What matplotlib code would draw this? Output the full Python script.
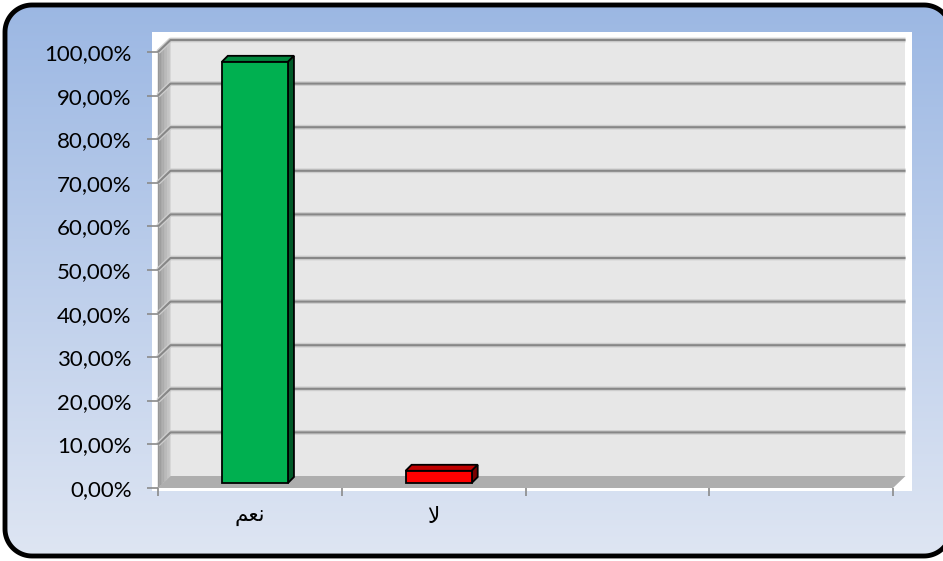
"""
Yes / No share - Excel-style 3D column chart
"""
import numpy as np
import matplotlib
matplotlib.use('Agg')
import matplotlib.pyplot as plt
from matplotlib.patches import Polygon, Rectangle

# Data
categories = ['نعم', 'لا']
values = [96.6, 2.8]
bar_colors = ['#00b050', '#ff0000']
top_colors = ['#00873d', '#c00000']
side_colors = ['#005a28', '#7a0000']
n_slots = 4
y_ticks = list(range(0, 101, 10))
y_tick_labels = [f'{v},00%' for v in y_ticks]

# Arabic display forms (matplotlib has no text shaping)
display_forms = {'نعم': '\uFEE2\uFECC\uFEE7', 'لا': '\uFEFB'}

W, H = 943, 561
fig = plt.figure(figsize=(W / 100, H / 100), dpi=100)
fig.patch.set_facecolor('white')

# Background: blue gradient inside a rounded frame
bg = fig.add_axes([0, 0, 1, 1])
bg.axis('off')
fx0, fy0, fx1, fy1, rad = 5, 5, 951, 556, 27
yy, xx = np.mgrid[0:H, 0:W] + 0.5
cx = np.clip(xx, fx0 + rad, fx1 - rad)
cy = np.clip(yy, fy0 + rad, fy1 - rad)
inside = ((xx - cx) ** 2 + (yy - cy) ** 2 <= rad ** 2) & (xx >= fx0) & (yy >= fy0) & (yy <= fy1)
c_top = np.array([0x9b, 0xb7, 0xe3]) / 255
c_bot = np.array([0xdf, 0xe6, 0xf3]) / 255
t = (yy / H)[..., None]
rgba = np.ones((H, W, 4))
rgba[..., :3] = c_top + (c_bot - c_top) * t
rgba[~inside, :3] = 1.0
bg.imshow(rgba, extent=[0, W, H, 0], aspect='auto', zorder=1, interpolation='nearest')
bg.set_xlim(0, W)
bg.set_ylim(H, 0)


# frame outline as a sampled polyline (avoids curve clipping artefacts)
def corner(cxc, cyc, a0, a1):
    a = np.radians(np.linspace(a0, a1, 24))
    return cxc + rad * np.cos(a), cyc + rad * np.sin(a)


parts = [corner(fx1 - rad, fy0 + rad, 0, -90),
         corner(fx0 + rad, fy0 + rad, -90, -180),
         corner(fx0 + rad, fy1 - rad, 180, 90),
         corner(fx1 - rad, fy1 - rad, 90, 0)]
fxs = np.concatenate([p[0] for p in parts] + [[parts[0][0][0]]])
fys = np.concatenate([p[1] for p in parts] + [[parts[0][1][0]]])
bg.plot(fxs, fys, color='black', lw=3.5, zorder=3, solid_joinstyle='round')
bg.add_patch(Rectangle((152, 32), 760, 459, facecolor='white', edgecolor='none', zorder=2))

# Main axes = front plane of the 3D box
x0px, x1px, y0px, y1px = 158, 893, 488, 52
ax = fig.add_axes([x0px / W, 1 - y0px / H, (x1px - x0px) / W, (y0px - y1px) / H])
ax.set_xlim(0, n_slots)
ax.set_ylim(0, 100)
ax.patch.set_alpha(0)
for s in ax.spines.values():
    s.set_visible(False)

px_x = n_slots / (x1px - x0px)
px_y = 100 / (y0px - y1px)
dx, dy = 12.5 * px_x, 12 * px_y        # wall depth
bsx, bsy = 5 * px_x, 5 * px_y          # bar offset into the box
bdx, bdy = 6 * px_x, 6 * px_y          # bar depth

# Back wall, side wall (shaded strips), floor
ax.add_patch(Polygon([(dx, dy), (n_slots + dx, dy), (n_slots + dx, 100 + dy), (dx, 100 + dy)],
                     closed=True, facecolor='#e7e7e7', edgecolor='none', clip_on=False, zorder=0))
n_strips = 8
shade_a, shade_b = np.array([0.58, 0.58, 0.58]), np.array([0.80, 0.80, 0.80])
for k in range(n_strips):
    f0, f1 = k / n_strips, (k + 1) / n_strips
    col = shade_a + (shade_b - shade_a) * (k + 0.5) / n_strips
    ax.add_patch(Polygon([(f0 * dx, f0 * dy), (f1 * dx, f1 * dy),
                          (f1 * dx, 100 + f1 * dy), (f0 * dx, 100 + f0 * dy)],
                         closed=True, facecolor=col, edgecolor=col, linewidth=0.3,
                         clip_on=False, zorder=0.5))
ax.add_patch(Polygon([(0, 0), (n_slots, 0), (n_slots + dx, dy), (dx, dy)],
                     closed=True, facecolor='#aeaeae', edgecolor='none', clip_on=False, zorder=0.6))

# Gridlines on walls
for v in y_ticks[1:]:
    xs = [0, dx, n_slots + dx]
    ys = [v, v + dy, v + dy]
    ax.plot(xs, ys, color='#cdcdcd', lw=3.4, clip_on=False, zorder=0.8, solid_capstyle='butt')
    ax.plot(xs, ys, color='#878787', lw=1.5, clip_on=False, zorder=0.9, solid_capstyle='butt')

# Bars: front faces through ax.bar, top and side faces from the same values
bar_w = 0.36
centers = [i + 0.5 + bsx for i in range(len(categories))]
ax.bar(centers, values, width=bar_w, bottom=bsy, color=bar_colors,
       edgecolor='black', linewidth=1.3, zorder=3)
for c, v, tc, sc in zip(centers, values, top_colors, side_colors):
    l, r = c - bar_w / 2, c + bar_w / 2
    top = bsy + v
    ax.add_patch(Polygon([(l, top), (r, top), (r + bdx, top + bdy), (l + bdx, top + bdy)],
                         closed=True, facecolor=tc, edgecolor='black', linewidth=1.3,
                         clip_on=False, zorder=2.9))
    ax.add_patch(Polygon([(r, bsy), (r + bdx, bsy + bdy), (r + bdx, top + bdy), (r, top)],
                         closed=True, facecolor=sc, edgecolor='black', linewidth=1.3,
                         clip_on=False, zorder=2.9))

# Axes ticks and labels
ax.set_yticks(y_ticks)
ax.set_yticklabels(y_tick_labels, fontsize=16, family=['Lato', 'DejaVu Sans'], color='black')
ax.tick_params(axis='y', direction='out', length=8, width=1.2, color='#8a8a8a', pad=11)
ax.set_xticks(range(n_slots + 1))
ax.set_xticklabels([])
ax.tick_params(axis='x', direction='out', length=6, width=1.2, color='#8a8a8a')
ax.set_xticks([i + 0.5 for i in range(len(categories))], minor=True)
ax.set_xticklabels([display_forms.get(c, c) for c in categories], minor=True,
                   fontsize=15.5, family=['DejaVu Sans'], color='black')
ax.tick_params(axis='x', which='minor', length=0, pad=14)

fig.savefig('out.png', dpi=100, facecolor='white')
